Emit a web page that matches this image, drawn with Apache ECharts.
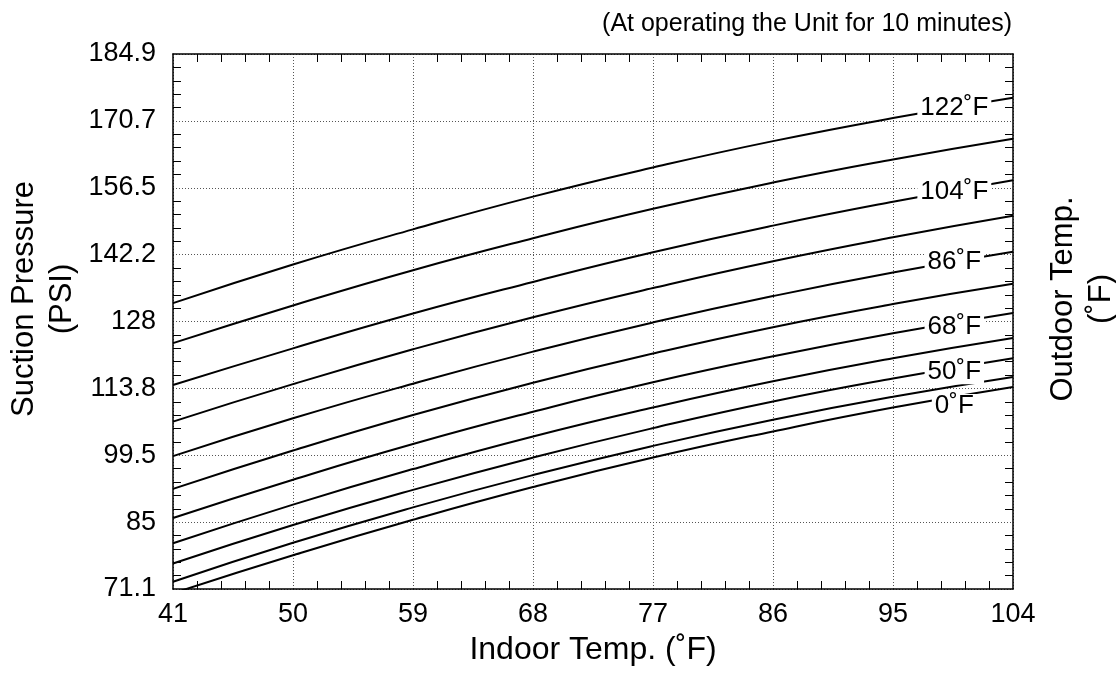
<!DOCTYPE html>
<html>
<head>
<meta charset="utf-8">
<title>Suction Pressure</title>
<script src="https://cdn.jsdelivr.net/npm/echarts@6/dist/echarts.min.js"></script>
<style>
    html, body { margin: 0; padding: 0; background: #fff; }
    #chart { width: 1116px; height: 676px; }
</style>
</head>
<body>
<div id="chart"></div>
<script>
    // indoor temp (°F), x of every curve point
    const indoorTemps = [41, 50, 59, 68, 77, 86, 95, 104]
    // y tick labels (psi), evenly spaced on the chart
    const pressureTicks = [71.1, 85, 99.5, 113.8, 128, 142.2, 156.5, 170.7, 184.9]
    // outdoor temp label of each curve, top to bottom ('' = no label)
    const outdoorLabels = ['122˚F', '', '104˚F', '', '86˚F', '', '68˚F', '', '50˚F', '', '0˚F']

    // suction pressure (psi)
    const curve1 = [131.9, 140.1, 147.6, 154.6, 160.8, 166.4, 171.3, 175.6]
    const curve2 = [123.4, 131.4, 138.9, 145.7, 152.0, 157.6, 162.5, 166.9]
    const curve3 = [114.5, 122.3, 129.7, 136.4, 142.7, 148.4, 153.5, 158.1]
    const curve4 = [106.7, 114.7, 122.1, 128.9, 135.1, 140.8, 145.9, 150.5]
    const curve5 = [99.3, 107.4, 114.8, 121.6, 127.8, 133.4, 138.4, 142.8]
    const curve6 = [92.2, 100.5, 108.1, 115.0, 121.2, 126.8, 131.7, 136.0]
    const curve7 = [85.9, 94.2, 101.9, 108.8, 115.1, 120.6, 125.5, 129.8]
    const curve8 = [80.6, 88.8, 96.5, 103.5, 109.7, 115.3, 120.2, 124.5]
    const curve9 = [76.4, 84.4, 92.0, 99.0, 105.3, 111.0, 115.9, 120.2]
    const curve10 = [72.6, 80.7, 88.2, 95.2, 101.5, 107.1, 112.0, 116.2]
    const curve11 = [70.2, 78.1, 85.5, 92.6, 99.0, 104.6, 109.7, 114.1]
    const curves = [curve1, curve2, curve3, curve4, curve5, curve6, curve7, curve8, curve9, curve10, curve11]

    const FONT = "'Liberation Sans', Arial, sans-serif"
    const labelTemp = 99.6 // where the curve labels sit (°F)
    const labelNudge = { '122˚F': 0, '104˚F': 1, '86˚F': 0, '68˚F': 4, '50˚F': 4, '0˚F': 9 }

    // x axis runs in °C so that 41°F (5°C) is a multiple of the 9°F (5°C) step
    const fToC = f => (f - 32) * 5 / 9
    const cToF = c => Math.round(c * 9 / 5 + 32)

    // psi -> position on the evenly spaced pressure scale (0..8)
    function psiToPos(p) {
        let i = 0
        while (i < pressureTicks.length - 2 && p > pressureTicks[i + 1]) i++
        return i + (p - pressureTicks[i]) / (pressureTicks[i + 1] - pressureTicks[i])
    }

    const lineSeries = curves.map((c, k) => ({
        type: 'line',
        name: outdoorLabels[k] || ('curve' + (k + 1)),
        smooth: 0.5,
        symbol: 'none',
        clip: true,
        lineStyle: { color: '#000', width: 2 },
        data: indoorTemps.map((t, i) => [fToC(t), psiToPos(c[i])])
    }))

    // labels of the outdoor temp, placed on their curve
    const last = indoorTemps.length - 1
    const frac = (labelTemp - indoorTemps[last - 1]) / (indoorTemps[last] - indoorTemps[last - 1])
    const labelPoints = []
    curves.forEach((c, k) => {
        if (!outdoorLabels[k]) return
        const p = c[last - 1] + (c[last] - c[last - 1]) * frac
        labelPoints.push({
            value: [fToC(labelTemp), psiToPos(p)],
            name: outdoorLabels[k],
            label: { offset: [0, labelNudge[outdoorLabels[k]]] }
        })
    })

    const chart = echarts.init(document.getElementById('chart'))

    const axisCommon = {
        axisLine: { show: true, onZero: false, lineStyle: { color: '#000', width: 1.5 } },
        axisTick: { show: false, inside: true },
        minorTick: { show: true, splitNumber: 5, length: 8, lineStyle: { color: '#000', width: 1 } },
        axisLabel: { color: '#000', fontSize: 27, fontFamily: FONT },
        splitLine: { show: true, lineStyle: { color: '#555', width: 1, type: [1, 2] } }
    }

    const option = {
        animation: false,
        backgroundColor: '#fff',
        title: {
            text: '(At operating the Unit for 10 minutes)',
            right: 99,
            top: 7,
            textStyle: { color: '#000', fontSize: 25, fontWeight: 'normal', fontFamily: FONT }
        },
        grid: { left: 173, right: 103, top: 54, bottom: 87 },
        xAxis: [
            Object.assign({}, axisCommon, {
                type: 'value',
                position: 'bottom',
                min: 5, max: 40, interval: 5,
                axisLabel: Object.assign({}, axisCommon.axisLabel, { margin: 12, formatter: v => cToF(v) }),
                name: 'Indoor Temp. (˚F)',
                nameLocation: 'middle',
                nameGap: 45,
                nameTextStyle: { color: '#000', fontSize: 32, fontFamily: FONT }
            }),
            Object.assign({}, axisCommon, {
                type: 'value',
                position: 'top',
                min: 5, max: 40, interval: 5,
                axisLabel: { show: false },
                splitLine: { show: false }
            })
        ],
        yAxis: [
            Object.assign({}, axisCommon, {
                type: 'value',
                position: 'left',
                min: 0, max: 8, interval: 1,
                axisLabel: Object.assign({}, axisCommon.axisLabel, { margin: 17, formatter: v => pressureTicks[v] })
            }),
            Object.assign({}, axisCommon, {
                type: 'value',
                position: 'right',
                min: 0, max: 8, interval: 1,
                axisLabel: { show: false },
                splitLine: { show: false }
            })
        ],
        graphic: [
            {
                type: 'text', x: 43, y: 299, rotation: Math.PI / 2,
                style: {
                    text: 'Suction Pressure\n(PSI)', fill: '#000', font: '31px ' + FONT,
                    lineHeight: 38, align: 'center', verticalAlign: 'middle'
                }
            },
            {
                type: 'text', x: 1082, y: 299, rotation: Math.PI / 2,
                style: {
                    text: 'Outdoor Temp.\n(˚F)', fill: '#000', font: '31px ' + FONT,
                    lineHeight: 38, align: 'center', verticalAlign: 'middle'
                }
            }
        ],
        series: lineSeries.concat([{
            type: 'scatter',
            z: 5,
            symbolSize: 1,
            itemStyle: { color: 'rgba(0,0,0,0)' },
            label: {
                show: true,
                position: 'inside',
                formatter: p => p.name,
                color: '#000',
                textBorderWidth: 0,
                textBorderColor: 'transparent',
                opacity: 1,
                fontSize: 26,
                fontFamily: FONT,
                lineHeight: 20,
                backgroundColor: '#fff',
                padding: [4, 3, 0, 3]
            },
            emphasis: { disabled: true },
            data: labelPoints
        }])
    }

    chart.setOption(option)
</script>
</body>
</html>
